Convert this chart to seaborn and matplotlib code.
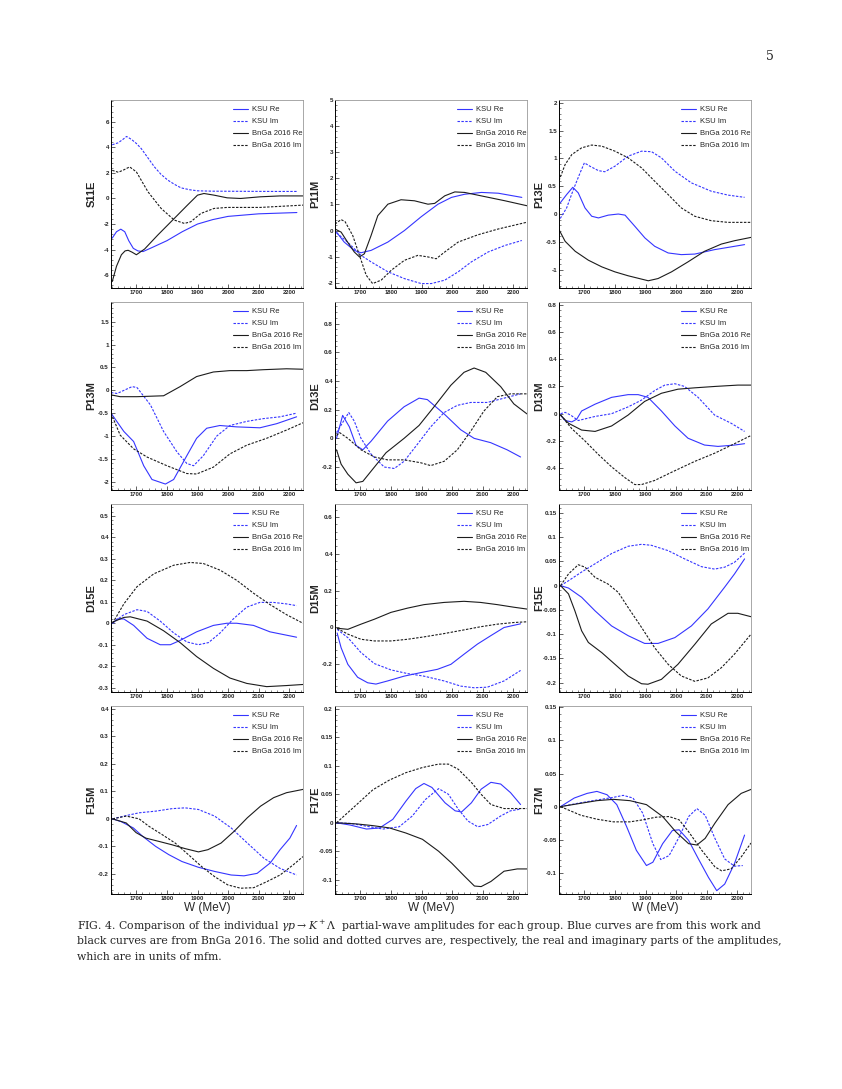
"""
Fig. 4 style grid: KSU vs BnGa 2016 partial-wave amplitudes for gamma p -> K+ Lambda.
Twelve small panels, values read off the published figure.
"""

import matplotlib
matplotlib.use("Agg")
import matplotlib.pyplot as plt
from matplotlib.ticker import MultipleLocator, AutoMinorLocator, FormatStrFormatter
import seaborn as sns

sns.set_style("ticks")
plt.rcParams["font.family"] = ["Liberation Sans", "DejaVu Sans"]
plt.rcParams["axes.unicode_minus"] = False
plt.rcParams["mathtext.fontset"] = "dejavuserif"

BLUE = "#3535ff"
BLACK = "#1c1c1c"
DOTTED = (0, (2.2, 1.3))

# ---- S11E ----
S11E_KSU_RE_W = [1621, 1635, 1649, 1662, 1675, 1690, 1705, 1722, 1750, 1800, 1850, 1900, 1950, 2000, 2100, 2225]
S11E_KSU_RE = [-3.1, -2.6, -2.4, -2.6, -3.3, -3.9, -4.1, -4.15, -3.85, -3.3, -2.6, -2.0, -1.65, -1.4, -1.2, -1.1]
S11E_KSU_IM_W = [1621, 1640, 1655, 1668, 1685, 1700, 1716, 1740, 1759, 1780, 1803, 1825, 1846, 1875, 1900, 1950, 2050, 2150, 2225]
S11E_KSU_IM = [4.2, 4.35, 4.6, 4.85, 4.6, 4.3, 3.9, 3.1, 2.47, 1.9, 1.43, 1.1, 0.83, 0.68, 0.6, 0.57, 0.56, 0.55, 0.55]
S11E_BNGA_RE_W = [1621, 1635, 1651, 1663, 1673, 1686, 1700, 1727, 1770, 1824, 1867, 1900, 1921, 1954, 1997, 2041, 2105, 2170, 2245]
S11E_BNGA_RE = [-6.5, -5.3, -4.4, -4.1, -4.05, -4.2, -4.4, -3.95, -2.86, -1.56, -0.52, 0.26, 0.39, 0.26, 0.05, 0.0, 0.13, 0.2, 0.2]
S11E_BNGA_IM_W = [1621, 1641, 1660, 1678, 1700, 1738, 1781, 1824, 1857, 1878, 1911, 1954, 1997, 2105, 2245]
S11E_BNGA_IM = [2.2, 2.05, 2.25, 2.47, 2.08, 0.52, -0.78, -1.69, -1.95, -1.82, -1.17, -0.78, -0.7, -0.7, -0.52]

# ---- P11M ----
P11M_KSU_RE_W = [1622, 1647, 1680, 1702, 1735, 1790, 1844, 1899, 1954, 1998, 2041, 2096, 2151, 2228]
P11M_KSU_RE = [-0.06, -0.44, -0.76, -0.85, -0.76, -0.44, 0.0, 0.53, 1.01, 1.27, 1.39, 1.46, 1.43, 1.27]
P11M_KSU_IM_W = [1622, 1658, 1702, 1735, 1790, 1844, 1899, 1932, 1976, 2020, 2063, 2118, 2173, 2228]
P11M_KSU_IM = [-0.09, -0.44, -0.95, -1.2, -1.58, -1.84, -2.03, -2.03, -1.9, -1.58, -1.2, -0.82, -0.57, -0.38]
P11M_BNGA_RE_W = [1617, 1637, 1658, 1680, 1697, 1713, 1735, 1757, 1790, 1833, 1877, 1921, 1943, 1976, 2009, 2041, 2107, 2173, 2245]
P11M_BNGA_RE = [0.06, -0.06, -0.44, -0.82, -1.01, -0.89, -0.19, 0.57, 1.01, 1.18, 1.14, 1.01, 1.04, 1.33, 1.48, 1.46, 1.3, 1.14, 0.95]
P11M_BNGA_IM_W = [1617, 1637, 1650, 1675, 1697, 1719, 1740, 1768, 1801, 1844, 1888, 1921, 1948, 1976, 2020, 2085, 2151, 2245]
P11M_BNGA_IM = [0.25, 0.42, 0.34, -0.19, -0.95, -1.71, -2.03, -1.9, -1.52, -1.14, -0.95, -1.01, -1.08, -0.82, -0.44, -0.16, 0.06, 0.32]

# ---- P13E ----
P13E_KSU_RE_W = [1621, 1642, 1662, 1680, 1702, 1724, 1746, 1778, 1811, 1833, 1865, 1898, 1930, 1974, 2017, 2061, 2126, 2170, 2224]
P13E_KSU_RE = [0.2, 0.35, 0.48, 0.38, 0.11, -0.04, -0.07, -0.02, 0.0, -0.02, -0.22, -0.43, -0.58, -0.7, -0.73, -0.72, -0.64, -0.6, -0.55]
P13E_KSU_IM_W = [1621, 1642, 1664, 1686, 1700, 1718, 1746, 1767, 1800, 1843, 1887, 1920, 1952, 1996, 2050, 2115, 2170, 2224]
P13E_KSU_IM = [-0.08, 0.11, 0.44, 0.74, 0.92, 0.86, 0.78, 0.76, 0.86, 1.04, 1.13, 1.12, 1.01, 0.77, 0.56, 0.41, 0.34, 0.3]
P13E_BNGA_RE_W = [1617, 1637, 1670, 1713, 1757, 1800, 1843, 1887, 1909, 1941, 1985, 2039, 2093, 2148, 2191, 2245]
P13E_BNGA_RE = [-0.28, -0.49, -0.67, -0.83, -0.95, -1.04, -1.11, -1.17, -1.2, -1.16, -1.04, -0.86, -0.67, -0.54, -0.48, -0.42]
P13E_BNGA_IM_W = [1617, 1637, 1659, 1691, 1724, 1757, 1800, 1843, 1887, 1930, 1974, 2017, 2061, 2115, 2170, 2245]
P13E_BNGA_IM = [0.6, 0.89, 1.07, 1.19, 1.24, 1.22, 1.13, 1.01, 0.83, 0.59, 0.35, 0.11, -0.04, -0.12, -0.15, -0.15]

# ---- P13M ----
P13M_KSU_RE_W = [1617, 1659, 1691, 1724, 1751, 1795, 1822, 1865, 1897, 1930, 1973, 2028, 2104, 2159, 2224]
P13M_KSU_RE = [-0.5, -0.9, -1.12, -1.65, -1.95, -2.05, -1.95, -1.43, -1.05, -0.83, -0.77, -0.8, -0.82, -0.73, -0.58]
P13M_KSU_IM_W = [1617, 1637, 1686, 1702, 1746, 1789, 1833, 1865, 1887, 1919, 1963, 2006, 2061, 2115, 2170, 2224]
P13M_KSU_IM = [-0.05, -0.07, 0.08, 0.06, -0.32, -0.9, -1.35, -1.6, -1.65, -1.43, -1.0, -0.77, -0.68, -0.62, -0.58, -0.5]
P13M_BNGA_RE_W = [1617, 1647, 1702, 1789, 1843, 1897, 1952, 2006, 2061, 2115, 2191, 2245]
P13M_BNGA_RE = [-0.1, -0.14, -0.14, -0.12, 0.08, 0.3, 0.4, 0.43, 0.43, 0.45, 0.47, 0.46]
P13M_BNGA_IM_W = [1617, 1647, 1691, 1735, 1800, 1865, 1897, 1952, 2006, 2061, 2126, 2191, 2245]
P13M_BNGA_IM = [-0.5, -0.98, -1.28, -1.46, -1.65, -1.82, -1.83, -1.68, -1.39, -1.2, -1.05, -0.87, -0.71]

# ---- D13E ----
D13E_KSU_RE_W = [1622, 1642, 1664, 1686, 1708, 1735, 1789, 1843, 1892, 1919, 1974, 2028, 2072, 2126, 2180, 2224]
D13E_KSU_RE = [0.0, 0.16, 0.08, -0.05, -0.08, -0.02, 0.12, 0.22, 0.28, 0.27, 0.17, 0.06, 0.0, -0.03, -0.08, -0.13]
D13E_KSU_IM_W = [1622, 1662, 1680, 1702, 1735, 1778, 1811, 1843, 1887, 1930, 1974, 2017, 2061, 2115, 2170, 2224]
D13E_KSU_IM = [0.04, 0.18, 0.12, 0.0, -0.11, -0.2, -0.21, -0.16, -0.04, 0.08, 0.18, 0.23, 0.25, 0.25, 0.28, 0.31]
D13E_BNGA_RE_W = [1622, 1637, 1659, 1686, 1708, 1746, 1784, 1843, 1892, 1941, 1996, 2039, 2072, 2110, 2159, 2202, 2245]
D13E_BNGA_RE = [-0.08, -0.18, -0.25, -0.31, -0.3, -0.2, -0.1, 0.0, 0.09, 0.22, 0.37, 0.46, 0.49, 0.46, 0.36, 0.24, 0.17]
D13E_BNGA_IM_W = [1622, 1632, 1659, 1702, 1746, 1789, 1843, 1897, 1930, 1974, 2017, 2061, 2104, 2148, 2191, 2245]
D13E_BNGA_IM = [0.02, 0.04, 0.0, -0.08, -0.13, -0.15, -0.15, -0.17, -0.19, -0.16, -0.08, 0.05, 0.19, 0.29, 0.31, 0.31]

# ---- D13M ----
D13M_KSU_RE_W = [1622, 1637, 1659, 1675, 1691, 1735, 1789, 1843, 1876, 1908, 1952, 1996, 2039, 2093, 2137, 2191, 2224]
D13M_KSU_RE = [-0.01, -0.05, -0.06, -0.04, 0.02, 0.07, 0.12, 0.14, 0.14, 0.12, 0.02, -0.09, -0.18, -0.23, -0.24, -0.23, -0.22]
D13M_KSU_IM_W = [1622, 1637, 1655, 1680, 1735, 1789, 1843, 1887, 1930, 1963, 1996, 2028, 2072, 2126, 2180, 2224]
D13M_KSU_IM = [0.0, 0.01, -0.01, -0.05, -0.02, 0.0, 0.05, 0.1, 0.17, 0.21, 0.22, 0.2, 0.12, -0.01, -0.07, -0.13]
D13M_BNGA_RE_W = [1622, 1648, 1691, 1735, 1789, 1843, 1897, 1952, 2006, 2061, 2126, 2202, 2245]
D13M_BNGA_RE = [-0.01, -0.07, -0.12, -0.13, -0.09, -0.01, 0.09, 0.15, 0.18, 0.19, 0.2, 0.21, 0.21]
D13M_BNGA_IM_W = [1622, 1659, 1702, 1746, 1789, 1833, 1865, 1887, 1930, 1985, 2061, 2126, 2191, 2245]
D13M_BNGA_IM = [-0.01, -0.11, -0.2, -0.3, -0.39, -0.47, -0.52, -0.52, -0.49, -0.43, -0.35, -0.29, -0.22, -0.16]

# ---- D15E ----
D15E_KSU_RE_W = [1622, 1637, 1659, 1691, 1735, 1778, 1811, 1843, 1897, 1952, 1996, 2028, 2083, 2137, 2224]
D15E_KSU_RE = [0.0, 0.02, 0.02, -0.01, -0.07, -0.1, -0.1, -0.08, -0.04, -0.01, 0.0, 0.0, -0.01, -0.04, -0.065]
D15E_KSU_IM_W = [1622, 1659, 1702, 1735, 1778, 1822, 1865, 1903, 1936, 1974, 2017, 2061, 2104, 2148, 2191, 2224]
D15E_KSU_IM = [0.0, 0.04, 0.063, 0.055, 0.01, -0.045, -0.087, -0.1, -0.09, -0.045, 0.02, 0.075, 0.097, 0.097, 0.09, 0.082]
D15E_BNGA_RE_W = [1622, 1659, 1680, 1735, 1789, 1843, 1897, 1952, 2006, 2061, 2126, 2191, 2245]
D15E_BNGA_RE = [0.005, 0.027, 0.03, 0.01, -0.035, -0.09, -0.155, -0.21, -0.255, -0.28, -0.295, -0.29, -0.285]
D15E_BNGA_IM_W = [1622, 1659, 1702, 1757, 1822, 1876, 1919, 1974, 2028, 2083, 2137, 2191, 2245]
D15E_BNGA_IM = [0.0, 0.09, 0.17, 0.23, 0.27, 0.283, 0.278, 0.247, 0.2, 0.14, 0.087, 0.04, 0.0]

# ---- D15M ----
D15M_KSU_RE_W = [1624, 1637, 1659, 1691, 1724, 1751, 1789, 1843, 1897, 1952, 1996, 2039, 2083, 2126, 2170, 2224]
D15M_KSU_RE = [-0.03, -0.11, -0.2, -0.27, -0.3, -0.307, -0.29, -0.264, -0.245, -0.227, -0.2, -0.145, -0.09, -0.045, 0.0, 0.02]
D15M_KSU_IM_W = [1624, 1659, 1702, 1746, 1800, 1854, 1908, 1974, 2028, 2072, 2115, 2170, 2224]
D15M_KSU_IM = [-0.01, -0.055, -0.136, -0.196, -0.23, -0.25, -0.264, -0.29, -0.318, -0.327, -0.324, -0.29, -0.233]
D15M_BNGA_RE_W = [1624, 1659, 1702, 1746, 1800, 1854, 1908, 1974, 2039, 2093, 2148, 2202, 2245]
D15M_BNGA_RE = [-0.004, -0.01, 0.018, 0.045, 0.082, 0.105, 0.124, 0.136, 0.142, 0.136, 0.124, 0.11, 0.1]
D15M_BNGA_IM_W = [1624, 1659, 1702, 1746, 1800, 1854, 1908, 1974, 2039, 2093, 2148, 2202, 2245]
D15M_BNGA_IM = [-0.005, -0.036, -0.064, -0.073, -0.073, -0.064, -0.051, -0.033, -0.013, 0.004, 0.018, 0.027, 0.031]

# ---- F15E ----
F15E_KSU_RE_W = [1622, 1648, 1691, 1735, 1789, 1843, 1897, 1941, 1996, 2050, 2104, 2159, 2191, 2224]
F15E_KSU_RE = [0.0, -0.005, -0.024, -0.052, -0.083, -0.103, -0.119, -0.119, -0.107, -0.083, -0.048, -0.003, 0.024, 0.055]
F15E_KSU_IM_W = [1622, 1648, 1691, 1735, 1789, 1843, 1887, 1919, 1974, 2028, 2083, 2126, 2159, 2191, 2224]
F15E_KSU_IM = [0.0, 0.01, 0.028, 0.045, 0.066, 0.081, 0.085, 0.083, 0.072, 0.055, 0.039, 0.034, 0.038, 0.048, 0.067]
F15E_BNGA_RE_W = [1622, 1648, 1669, 1691, 1713, 1757, 1800, 1843, 1887, 1908, 1952, 2006, 2061, 2115, 2170, 2202, 2245]
F15E_BNGA_RE = [0.0, -0.017, -0.052, -0.093, -0.117, -0.138, -0.162, -0.186, -0.202, -0.203, -0.193, -0.162, -0.121, -0.079, -0.057, -0.057, -0.064]
F15E_BNGA_IM_W = [1622, 1648, 1680, 1702, 1735, 1778, 1811, 1843, 1887, 1930, 1974, 2017, 2061, 2104, 2148, 2191, 2245]
F15E_BNGA_IM = [0.0, 0.024, 0.043, 0.038, 0.017, 0.003, -0.014, -0.045, -0.086, -0.128, -0.162, -0.186, -0.197, -0.19, -0.169, -0.141, -0.1]

# ---- F15M ----
F15M_KSU_RE_W = [1622, 1650, 1690, 1720, 1763, 1806, 1849, 1903, 1956, 2010, 2052, 2095, 2138, 2170, 2202, 2224]
F15M_KSU_RE = [0.0, -0.01, -0.033, -0.063, -0.1, -0.13, -0.155, -0.176, -0.191, -0.204, -0.207, -0.198, -0.16, -0.112, -0.07, -0.024]
F15M_KSU_IM_W = [1622, 1667, 1709, 1763, 1816, 1859, 1903, 1956, 2010, 2063, 2117, 2170, 2224]
F15M_KSU_IM = [0.0, 0.012, 0.022, 0.028, 0.037, 0.04, 0.034, 0.01, -0.033, -0.088, -0.143, -0.18, -0.204]
F15M_BNGA_RE_W = [1622, 1667, 1699, 1731, 1774, 1816, 1859, 1903, 1934, 1977, 2020, 2063, 2106, 2149, 2191, 2245]
F15M_BNGA_RE = [0.0, -0.015, -0.05, -0.07, -0.082, -0.094, -0.108, -0.12, -0.112, -0.088, -0.045, 0.004, 0.046, 0.077, 0.095, 0.107]
F15M_BNGA_IM_W = [1622, 1667, 1709, 1741, 1784, 1827, 1870, 1913, 1956, 1999, 2041, 2084, 2127, 2170, 2213, 2245]
F15M_BNGA_IM = [0.0, 0.01, 0.0, -0.027, -0.057, -0.088, -0.13, -0.173, -0.21, -0.24, -0.252, -0.25, -0.228, -0.204, -0.167, -0.137]

# ---- F17E ----
F17E_KSU_RE_W = [1622, 1667, 1720, 1763, 1806, 1849, 1881, 1908, 1934, 1977, 2010, 2031, 2063, 2095, 2127, 2159, 2191, 2224]
F17E_KSU_RE = [0.0, -0.004, -0.011, -0.009, 0.006, 0.038, 0.06, 0.069, 0.062, 0.035, 0.021, 0.019, 0.035, 0.059, 0.071, 0.068, 0.053, 0.032]
F17E_KSU_IM_W = [1622, 1667, 1720, 1774, 1827, 1870, 1913, 1956, 1988, 2020, 2052, 2084, 2117, 2159, 2191, 2224]
F17E_KSU_IM = [0.0, -0.001, -0.006, -0.011, -0.007, 0.012, 0.041, 0.06, 0.05, 0.024, 0.003, -0.007, -0.003, 0.012, 0.021, 0.024]
F17E_BNGA_RE_W = [1622, 1688, 1741, 1795, 1849, 1903, 1956, 1999, 2041, 2073, 2095, 2127, 2170, 2213, 2245]
F17E_BNGA_RE = [0.0, -0.002, -0.005, -0.009, -0.018, -0.029, -0.05, -0.071, -0.094, -0.111, -0.112, -0.103, -0.085, -0.081, -0.081]
F17E_BNGA_IM_W = [1622, 1688, 1741, 1795, 1849, 1903, 1956, 1988, 2020, 2063, 2095, 2127, 2170, 2213, 2245]
F17E_BNGA_IM = [0.0, 0.032, 0.058, 0.075, 0.088, 0.097, 0.103, 0.103, 0.094, 0.071, 0.05, 0.032, 0.025, 0.025, 0.025]

# ---- F17M ----
F17M_KSU_RE_W = [1622, 1667, 1709, 1741, 1774, 1806, 1838, 1870, 1903, 1924, 1956, 1988, 2010, 2041, 2073, 2106, 2133, 2159, 2191, 2224]
F17M_KSU_RE = [0.0, 0.013, 0.02, 0.023, 0.018, 0.003, -0.03, -0.066, -0.089, -0.084, -0.056, -0.036, -0.035, -0.051, -0.079, -0.107, -0.127, -0.117, -0.086, -0.043]
F17M_KSU_IM_W = [1622, 1678, 1741, 1795, 1827, 1859, 1891, 1924, 1950, 1977, 2010, 2041, 2068, 2095, 2127, 2159, 2191, 2218]
F17M_KSU_IM = [0.0, 0.005, 0.01, 0.014, 0.017, 0.013, -0.01, -0.056, -0.08, -0.074, -0.046, -0.015, -0.003, -0.013, -0.048, -0.079, -0.09, -0.089]
F17M_BNGA_RE_W = [1622, 1688, 1741, 1795, 1849, 1903, 1956, 1999, 2041, 2068, 2095, 2127, 2170, 2213, 2245]
F17M_BNGA_RE = [0.0, 0.005, 0.009, 0.011, 0.009, 0.003, -0.015, -0.038, -0.056, -0.058, -0.048, -0.025, 0.003, 0.02, 0.026]
F17M_BNGA_IM_W = [1622, 1688, 1741, 1795, 1849, 1891, 1934, 1977, 2010, 2041, 2084, 2127, 2149, 2180, 2213, 2245]
F17M_BNGA_IM = [0.0, -0.013, -0.019, -0.023, -0.023, -0.02, -0.016, -0.015, -0.02, -0.038, -0.066, -0.091, -0.097, -0.094, -0.076, -0.055]

PANEL_ORDER = ["S11E", "P11M", "P13E", "P13M", "D13E", "D13M",
               "D15E", "D15M", "F15E", "F15M", "F17E", "F17M"]
Y_LIMITS = {
    "S11E": (-7.0, 7.7), "P11M": (-2.2, 5.0), "P13E": (-1.33, 2.05),
    "P13M": (-2.18, 1.93), "D13E": (-0.36, 0.95), "D13M": (-0.56, 0.82),
    "D15E": (-0.32, 0.555), "D15M": (-0.35, 0.67), "F15E": (-0.219, 0.168),
    "F15M": (-0.273, 0.41), "F17E": (-0.125, 0.205), "F17M": (-0.132, 0.152),
}
Y_STEPS = {
    "S11E": 2, "P11M": 1, "P13E": 0.5, "P13M": 0.5, "D13E": 0.2, "D13M": 0.2,
    "D15E": 0.1, "D15M": 0.2, "F15E": 0.05, "F15M": 0.1, "F17E": 0.05, "F17M": 0.05,
}
SERIES = [("KSU Re", "_KSU_RE", BLUE, "-"), ("KSU Im", "_KSU_IM", BLUE, DOTTED),
          ("BnGa 2016 Re", "_BNGA_RE", BLACK, "-"), ("BnGa 2016 Im", "_BNGA_IM", BLACK, DOTTED)]

FIG_W, FIG_H = 842, 1089
COL_LEFT = [111, 335, 559]
ROW_TOP = [100, 302, 504, 706]
PANEL_W, PANEL_H = 192, 188

fig = plt.figure(figsize=(FIG_W / 100, FIG_H / 100), dpi=100)
data = globals()

for i, name in enumerate(PANEL_ORDER):
    row, col = divmod(i, 3)
    ax = fig.add_axes([COL_LEFT[col] / FIG_W,
                       (FIG_H - ROW_TOP[row] - PANEL_H) / FIG_H,
                       PANEL_W / FIG_W, PANEL_H / FIG_H])
    for label, suffix, color, ls in SERIES:
        sns.lineplot(x=data[name + suffix + "_W"], y=data[name + suffix],
                     color=color, linestyle=ls, lw=0.8, label=label,
                     sort=False, estimator=None, ax=ax)

    ax.set_xlim(1617, 2245)
    ax.set_ylim(*Y_LIMITS[name])
    ax.xaxis.set_major_locator(MultipleLocator(100))
    ax.xaxis.set_minor_locator(MultipleLocator(20))
    ax.yaxis.set_major_locator(MultipleLocator(Y_STEPS[name]))
    ax.yaxis.set_minor_locator(AutoMinorLocator(5))
    ax.yaxis.set_major_formatter(FormatStrFormatter("%g"))
    ax.tick_params(which="major", direction="in", length=2.8, width=0.5, pad=1.5)
    ax.tick_params(which="minor", direction="in", length=1.4, width=0.4)
    ax.tick_params(axis="y", labelsize=4.5)
    ax.tick_params(axis="x", labelsize=4.2)
    for t in ax.get_xticklabels() + ax.get_yticklabels():
        t.set_fontweight("bold")
    for side in ["top", "right"]:
        ax.spines[side].set_color("#9a9a9a")
        ax.spines[side].set_linewidth(0.6)
    for side in ["left", "bottom"]:
        ax.spines[side].set_color("black")
        ax.spines[side].set_linewidth(0.7)

    ax.set_ylabel(name, fontsize=8, fontweight="bold")
    ax.yaxis.set_label_coords(-0.075, 0.5)
    if row == 3:
        ax.set_xlabel("W (MeV)", fontsize=8.5, labelpad=1)
    else:
        ax.set_xlabel("")

    ax.legend(loc="upper left", bbox_to_anchor=(0.62, 0.985), frameon=False,
              fontsize=5.5, handlelength=2.0, handletextpad=0.5,
              labelspacing=0.62, borderaxespad=0.0)

fig.text(770 / FIG_W, 1 - 57 / FIG_H, "5", fontsize=9, family="DejaVu Serif",
         ha="center", va="center")

caption = [
    r"FIG. 4. Comparison of the individual $\gamma p \rightarrow K^+\Lambda$  partial-wave amplitudes for each group. "
    "Blue curves are from this work and",
    "black curves are from BnGa 2016. The solid and dotted curves are, respectively, "
    "the real and imaginary parts of the amplitudes,",
    "which are in units of mfm.",
]
for k, line in enumerate(caption):
    fig.text(77 / FIG_W, 1 - (926 + 15.5 * k) / FIG_H, line, fontsize=7.8,
             family="DejaVu Serif", ha="left", va="center")

fig.savefig("out.png", dpi=100)
